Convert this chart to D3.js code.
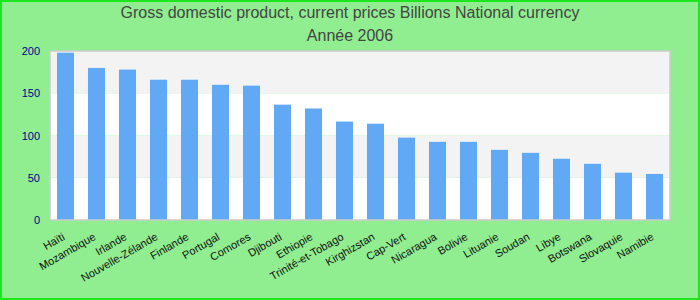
<!DOCTYPE html>
<html>
<head>
<meta charset="utf-8">
<script src="https://cdn.jsdelivr.net/npm/d3@7"></script>
<style>
  body { margin: 0; padding: 0; }
  svg { display: block; font-family: "Liberation Sans", Arial, sans-serif; }
</style>
</head>
<body>
<div id="chart"></div>
<script>
// data
var countries = ["Haïti", "Mozambique", "Irlande", "Nouvelle-Zélande", "Finlande", "Portugal",
    "Comores", "Djibouti", "Ethiopie", "Trinité-et-Tobago", "Kirghizstan", "Cap-Vert",
    "Nicaragua", "Bolivie", "Lituanie", "Soudan", "Libye", "Botswana", "Slovaquie", "Namibie"];
var values = [198, 180, 178, 166, 166, 160, 159, 136.5, 132, 116.5, 114, 97.5,
    92.5, 92.5, 83, 79.5, 72.5, 66.5, 56, 54.5];
var yTicks = [0, 50, 100, 150, 200];
var titleLines = ["Gross domestic product, current prices Billions National currency", "Année 2006"];

var W = 700, H = 300;
var margin = { top: 51, right: 30, bottom: 80, left: 50 },
    width = W - margin.left - margin.right,
    height = H - margin.top - margin.bottom;

var svg = d3.select("#chart")
    .append("svg")
    .attr("width", W)
    .attr("height", H);

// background + frame
svg.append("rect")
    .attr("x", 1).attr("y", 1)
    .attr("width", W - 2).attr("height", H - 2)
    .style("fill", "#90ee90")
    .style("stroke", "#1ee61e")
    .style("stroke-width", 2);

// title
svg.selectAll("text.title")
    .data(titleLines)
    .enter()
    .append("text")
    .attr("class", "title")
    .attr("x", W / 2)
    .attr("y", function (d, i) { return 18 + i * 23 })
    .attr("text-anchor", "middle")
    .style("font-size", "16px")
    .style("fill", "#444444")
    .text(function (d) { return d });

var g = svg.append("g")
    .attr("transform", "translate(" + margin.left + "," + margin.top + ")");

var x = d3.scaleBand()
    .domain(countries)
    .range([0, width])
    .paddingInner(0.45)
    .paddingOuter(0.225);

var y = d3.scaleLinear()
    .domain([0, 200])
    .range([height, 0]);

// alternating bands
var bands = d3.pairs(yTicks);
g.selectAll("rect.band")
    .data(bands)
    .enter()
    .append("rect")
    .attr("class", "band")
    .attr("x", 0)
    .attr("width", width)
    .attr("y", function (d) { return y(d[1]) })
    .attr("height", function (d) { return y(d[0]) - y(d[1]) })
    .style("fill", function (d, i) { return i % 2 ? "#f3f3f3" : "#ffffff" });

// bars
g.selectAll("rect.bar")
    .data(values)
    .enter()
    .append("rect")
    .attr("class", "bar")
    .attr("x", function (d, i) { return x(countries[i]) })
    .attr("width", x.bandwidth())
    .attr("y", function (d) { return y(d) })
    .attr("height", function (d) { return y(0) - y(d) })
    .style("fill", "#62a9f5");

// plot frame
g.append("rect")
    .attr("x", 0).attr("y", 0)
    .attr("width", width).attr("height", height)
    .style("fill", "none")
    .style("stroke", "#cccccc")
    .style("stroke-width", 1.5);

// Y axis
var yAxis = g.append("g")
    .call(d3.axisLeft(y).tickValues(yTicks).tickSize(0).tickPadding(10));
yAxis.select(".domain").remove();
yAxis.selectAll("text")
    .style("font-size", "11px")
    .style("font-family", "'Liberation Sans', Arial, sans-serif")
    .style("fill", "#00008b");

// X axis
var xAxis = g.append("g")
    .attr("transform", "translate(0," + height + ")")
    .call(d3.axisBottom(x).tickSize(0));
xAxis.select(".domain").remove();
xAxis.selectAll("text")
    .style("font-size", "11px")
    .style("font-family", "'Liberation Sans', Arial, sans-serif")
    .style("fill", "#111111")
    .style("text-anchor", "end")
    .attr("dy", 0)
    .attr("y", 0)
    .attr("transform", "translate(0,19) rotate(-30)");
</script>
</body>
</html>
